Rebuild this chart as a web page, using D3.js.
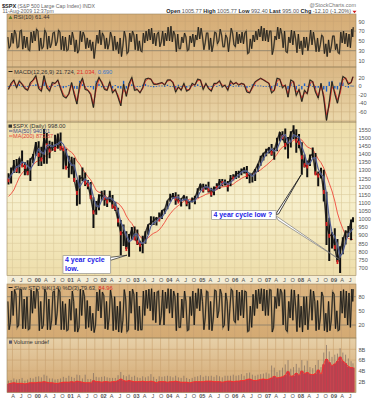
<!DOCTYPE html>
<html><head><meta charset="utf-8">
<script src="https://cdn.jsdelivr.net/npm/d3@7"></script>
<style>body{margin:0;background:#fff}svg{display:block;font-family:"Liberation Sans",Arial,sans-serif}</style>
</head><body><svg id="c" width="377" height="400"></svg>
<script>
// ---------- DATA (monthly, Feb 1999 .. Aug 2009) ----------
const firstMonth = "1999-02";
const lastDate = "2009-08-11";
const prevClose0 = 1280;
const high = [1281,1316,1362,1368,1373,1421,1350,1361,1373,1400,1473,
1478,1444,1553,1528,1481,1475,1517,1525,1531,1436,1431,1389,
1383,1376,1241,1269,1316,1286,1239,1227,1134,1110,1151,1173,
1176,1131,1173,1147,1106,1068,994,965,924,907,951,954,
935,865,896,924,966,1016,1015,1011,1040,1054,1064,1112,
1155,1159,1164,1150,1127,1146,1140,1110,1131,1142,1188,1217,
1217,1212,1229,1192,1199,1220,1246,1245,1243,1233,1270,1275,
1295,1297,1310,1318,1326,1284,1280,1307,1340,1389,1407,1431,
1441,1461,1438,1499,1535,1540,1556,1504,1539,1576,1552,1523,
1471,1396,1359,1397,1440,1405,1292,1314,1303,1167,1007,919,
943,877,832,888,930,957,996,1010];
const low = [1212,1218,1282,1282,1281,1329,1268,1268,1233,1343,1387,
1325,1326,1339,1339,1373,1420,1413,1431,1421,1305,1316,1254,
1275,1228,1081,1091,1232,1203,1183,1124,944,1026,1054,1114,
1081,1074,1103,1063,1048,953,776,834,815,768,872,872,
840,800,789,848,902,963,962,960,990,1000,1031,1060,
1105,1124,1087,1108,1077,1113,1078,1060,1101,1090,1128,1173,
1163,1180,1163,1137,1146,1185,1184,1201,1205,1169,1201,1245,
1245,1253,1268,1280,1245,1220,1224,1234,1290,1327,1360,1385,
1403,1389,1364,1416,1476,1484,1427,1371,1439,1490,1407,1435,
1271,1317,1257,1325,1374,1272,1201,1248,1107,840,741,818,
805,736,667,783,843,889,869,980];
const close = [1238,1286,1335,1302,1373,1329,1320,1283,1363,1389,1469,
1394,1366,1499,1452,1421,1455,1431,1518,1437,1429,1315,1320,
1366,1240,1160,1249,1256,1224,1211,1134,1041,1060,1139,1148,
1130,1107,1147,1077,1067,990,912,916,815,886,936,880,
856,841,848,917,964,975,990,1008,996,1051,1058,1112,
1131,1145,1126,1107,1121,1141,1102,1104,1115,1130,1174,1212,
1181,1204,1181,1157,1192,1191,1234,1220,1229,1207,1249,1248,
1280,1281,1295,1311,1270,1270,1277,1304,1336,1378,1401,1418,
1438,1407,1421,1482,1531,1503,1455,1474,1527,1549,1481,1468,
1379,1331,1323,1386,1400,1280,1267,1283,1166,969,896,903,
826,735,798,873,919,919,987,995];
const ma50 = [1245,1268,1290,1320,1325,1350,1345,1325,1305,1335,1390,
1430,1410,1400,1450,1455,1445,1455,1460,1475,1460,1415,1360,
1330,1330,1260,1195,1225,1245,1230,1205,1135,1080,1075,1115,
1140,1125,1130,1120,1100,1050,980,945,900,860,870,905,
905,855,850,860,900,955,975,985,1005,1010,1035,1065,
1100,1130,1130,1135,1110,1120,1120,1108,1107,1113,1138,1168,
1190,1198,1193,1182,1173,1183,1201,1217,1226,1213,1224,1239,
1256,1269,1287,1294,1295,1277,1263,1279,1300,1335,1368,1398,
1416,1432,1415,1429,1471,1511,1518,1466,1476,1517,1509,1503,
1446,1399,1337,1341,1373,1375,1307,1276,1257,1150,1002,915,
890,843,767,794,857,907,926,940];
const ma200 = [1138,1155,1178,1217,1256,1282,1299,1305,1314,1331,1351,
1358,1365,1379,1393,1404,1423,1431,1445,1441,1445,1440,1420,
1410,1390,1357,1337,1308,1284,1260,1240,1209,1175,1164,1162,
1149,1133,1124,1109,1102,1096,1080,1055,1018,991,972,942,
918,892,877,877,883,900,912,920,933,954,979,1008,
1032,1052,1069,1082,1094,1110,1116,1121,1121,1121,1124,1134,
1142,1151,1156,1162,1172,1180,1192,1197,1199,1202,1207,1214,
1228,1238,1249,1258,1263,1268,1276,1282,1292,1302,1316,1329,
1344,1359,1376,1398,1424,1442,1451,1459,1471,1483,1491,1497,
1485,1463,1443,1435,1427,1400,1368,1346,1313,1267,1219,1172,
1110,1036,983,939,898,880,874,874];
const rsiHi = [58,66,72,64,70,72,60,58,68,70,74,
70,56,72,66,60,66,68,72,68,60,58,62,
68,55,52,70,68,60,56,52,48,62,72,66,
60,56,68,58,60,48,56,70,58,66,70,62,
64,50,66,70,74,76,66,64,68,70,66,78,
80,70,62,64,58,66,58,60,64,62,78,76,
58,66,66,56,68,66,74,62,62,56,76,66,
68,64,68,66,70,54,62,70,74,80,76,72,
70,70,60,78,76,64,70,58,72,70,54,64,
50,58,58,72,68,50,56,62,58,44,52,60,
60,44,68,70,66,64,74,78];
const rsiLo = [35,40,45,36,38,33,36,32,30,46,50,
30,34,38,33,36,45,40,48,32,30,30,32,
42,28,25,32,48,34,36,30,14,38,45,42,
34,33,44,30,32,24,18,40,24,28,48,32,
30,30,28,46,50,52,44,40,38,48,40,50,
50,48,28,34,34,46,30,32,46,38,52,54,
32,46,32,28,42,44,50,38,38,28,52,42,
38,44,46,44,24,26,34,48,52,58,50,50,
48,22,34,52,54,36,28,26,46,42,26,34,
22,36,30,48,42,28,28,42,24,18,26,38,
32,26,24,46,44,38,36,58];
const macd = [-8,6,14,-4,12,4,-6,-10,8,14,24,
-6,-12,24,-4,-12,8,6,14,-6,-24,-28,-18,
8,-20,-42,4,18,-8,-10,-20,-50,4,20,8,
-8,-10,10,-16,-8,-26,-46,4,-24,6,20,-10,
-8,-16,-4,16,18,16,4,4,6,8,2,14,
14,8,-14,-2,-10,6,-12,-8,6,2,16,14,
-8,6,-6,-12,6,6,12,-2,2,-10,12,4,
8,2,6,4,-14,-16,-2,10,14,18,14,10,
6,-16,-10,18,16,-4,2,-26,14,10,-22,-8,
-36,-10,-18,14,10,-14,-28,6,-28,-80,-38,10,
-18,-40,-10,22,18,4,8,21.7];
const signal = [-6,2,12,0,8,6,-3,-9,3,12,20,
0,-10,14,2,-9,3,6,12,-2,-19,-25,-20,
2,-14,-35,-8,14,-3,-9,-17,-42,-8,15,11,
-4,-9,5,-10,-10,-21,-40,-8,-18,0,16,-3,
-8,-14,-7,11,17,16,7,4,5,7,4,11,
14,10,-8,-5,-8,2,-8,-9,2,3,12,14,
-3,3,-3,-10,2,6,10,2,1,-7,7,6,
7,4,5,4,-9,-15,-6,7,13,17,15,11,
7,-9,-11,11,16,1,1,-18,6,11,-14,-11,
-28,-16,-16,6,11,-8,-24,0,-20,-67,-48,-2,
-12,-32,-18,14,19,8,7,21.0];
const stoHi = [70,92,95,85,96,95,75,80,94,92,97,
90,70,96,88,75,90,92,96,90,70,65,75,
92,70,55,96,94,80,72,60,45,90,96,90,
82,70,94,75,80,60,70,95,75,92,96,85,
90,60,92,94,96,97,90,90,92,94,90,97,
96,92,80,88,75,92,70,80,92,88,97,96,
70,92,90,70,94,92,96,85,88,70,96,92,
94,90,94,92,90,60,85,94,96,97,96,94,
95,94,80,97,96,88,95,70,95,94,60,85,
60,80,80,95,92,70,72,90,80,45,70,90,
85,50,92,95,92,88,96,96];
const stoLo = [10,25,40,15,20,12,12,10,12,45,55,
8,12,20,10,10,30,20,45,10,10,8,10,
30,6,5,15,40,12,15,8,4,20,50,35,
12,10,35,8,10,5,4,30,6,10,45,10,
8,10,10,40,55,50,30,25,20,40,20,55,
45,35,8,15,15,35,8,10,40,20,55,50,
10,35,10,8,35,35,50,15,20,8,55,30,
25,30,40,35,6,8,15,40,55,65,50,40,
40,5,15,55,60,20,10,6,35,30,6,15,
5,20,10,50,30,8,10,35,8,5,8,30,
12,8,10,45,35,20,15,70];
const vol = [1.6,1.7,1.8,1.7,1.7,1.7,1.6,1.7,1.8,1.8,1.8,
1.9,1.9,2.0,1.9,1.8,1.8,1.7,1.7,1.8,1.9,1.9,1.9,
2.0,1.9,2.1,2.0,1.9,1.8,1.8,1.8,2.2,2.0,2.0,1.9,
2.0,2.0,1.9,2.0,2.0,2.2,2.5,2.2,2.1,2.2,2.1,2.0,
2.0,2.0,2.1,2.0,2.0,2.1,2.0,1.8,2.0,2.0,2.0,1.9,
2.0,2.0,2.1,2.0,1.9,1.9,1.9,1.8,1.9,2.0,2.0,2.0,
2.0,2.1,2.1,2.1,2.0,2.0,2.0,1.9,2.0,2.1,2.1,2.0,
2.1,2.1,2.2,2.2,2.4,2.5,2.3,2.2,2.3,2.4,2.5,2.4,
2.5,2.7,3.0,2.7,2.8,2.9,3.2,3.9,3.0,3.1,3.6,3.2,
4.0,3.5,3.7,3.4,3.3,3.5,4.2,3.4,5.2,6.2,5.6,5.0,
5.3,5.8,6.6,5.8,5.4,4.8,4.6,4.6];
const volHigh = [2.2,2.3,2.6,2.4,2.5,2.7,2.2,2.4,2.7,2.6,2.9,
3.0,2.8,3.3,3.1,2.6,2.6,2.4,2.5,2.6,2.9,2.7,3.1,
2.9,2.7,3.3,3.2,2.6,3.3,2.5,2.5,3.6,2.9,2.8,2.9,
3.0,2.8,2.7,2.7,2.7,3.2,3.8,3.2,3.0,3.3,2.9,3.1,
2.8,2.7,3.0,2.8,3.0,3.4,2.9,2.5,3.0,2.9,3.0,3.1,
3.0,2.8,3.1,2.8,2.7,3.1,2.7,2.5,2.7,2.9,3.0,3.2,
2.9,3.1,3.0,3.1,2.9,3.2,3.0,2.8,3.1,3.1,3.1,3.3,
3.1,3.2,3.4,3.1,3.6,3.7,3.3,3.1,3.3,3.4,3.5,3.7,
3.5,5.0,4.6,3.8,4.1,4.6,5.2,6.0,4.4,4.7,5.3,4.6,
6.0,5.0,5.9,4.7,4.5,5.1,6.0,4.7,7.4,8.8,7.6,6.6,
7.0,7.2,8.2,7.4,7.0,6.3,5.8,5.4];
// tick labels
const priceTicks = [700,750,800,850,900,950,1000,1050,1100,1150,1200,1250,1300,1350,1400,1450,1500,1550];
const rsiTicks = [10,30,50,70,90];
const macdTicks = [-80,-60,-40,-20,0,20];
const stoTicks = [20,50,80];
const volTicks = [2,4,6,8];
const monthLetters = ["J","F","M","A","M","J","J","A","S","O","N","D"];

// ---------- LAYOUT ----------
const svg = d3.select("#c");
const X0 = 7, X1 = 356;
const x = d3.scaleTime().domain([new Date(1999,0,30), new Date(2009,8,9)]).range([X0, X1]);
const P = {
  rsi:{y0:14,y1:67}, macd:{y0:67,y1:122}, price:{y0:122,y1:275.5},
  sto:{y0:284,y1:338}, vol:{y0:338,y1:392.5}
};
const yR = d3.scaleLinear([10,90],[60.5,21.3]);
const yM = d3.scaleLinear([-80,20],[120.4,77.4]);
const yP = d3.scaleLinear([700,1550],[267.7,129.5]);
const yS = d3.scaleLinear([20,80],[325,296.7]);
const yV = d3.scaleLinear([0,8],[392.5,349.3]);

const pm = d3.timeParse("%Y-%m")(firstMonth);
const endD = d3.timeParse("%Y-%m-%d")(lastDate);
const starts = d3.timeMonth.range(pm, d3.timeMonth.offset(pm, high.length));
const ends = starts.map((s,i)=> i<starts.length-1 ? starts[i+1] : d3.timeDay.offset(endD,1));
const at = (i,f)=> new Date(+starts[i] + f*(ends[i]-starts[i]));
const mid = i => at(i,0.5);
const prevC = i => i===0 ? prevClose0 : close[i-1];
const up = i => close[i] >= prevC(i);

// gradients
const defs = svg.append("defs");
function grad(id, stops){
  const g = defs.append("linearGradient").attr("id",id).attr("x1",0).attr("y1",0).attr("x2",0).attr("y2",1);
  stops.forEach(s=>g.append("stop").attr("offset",s[0]).attr("stop-color",s[1]));
}
grad("gR",[[0,"#D5AC75"],[1,"#DFBE8D"]]);
grad("gM",[[0,"#D9B683"],[1,"#EBD8AB"]]);
grad("gP",[[0,"#EDDCA7"],[0.5,"#F7F0CD"],[1,"#EEDEAB"]]);
grad("gS",[[0,"#DBB480"],[1,"#D4AA73"]]);
grad("gV",[[0,"#E7D0A8"],[1,"#D0A36C"]]);
Object.entries(P).forEach(([k,p])=>{
  defs.append("clipPath").attr("id","cl"+k).append("rect")
    .attr("x",X0).attr("y",p.y0).attr("width",X1-X0).attr("height",p.y1-p.y0);
});

// axis rows backgrounds
svg.append("rect").attr("x",X0).attr("y",275.5).attr("width",X1-X0).attr("height",8.5).attr("fill","#F4EDD6");

const qTicks = d3.timeMonth.every(3).range(new Date(1999,3,1), new Date(2009,8,1));

function panel(key, fill, yScale, gridVals, strongVals, gridCol){
  const p = P[key];
  const g = svg.append("g");
  g.append("rect").attr("x",X0).attr("y",p.y0).attr("width",X1-X0).attr("height",p.y1-p.y0).attr("fill",fill);
  const gc = g.append("g").attr("clip-path",`url(#cl${key})`);
  gc.selectAll("line.v").data(qTicks).join("line")
    .attr("x1",d=>x(d)).attr("x2",d=>x(d)).attr("y1",p.y0).attr("y2",p.y1)
    .attr("stroke",gridCol).attr("stroke-width",0.6);
  gc.selectAll("line.h").data(gridVals).join("line")
    .attr("x1",X0).attr("x2",X1).attr("y1",d=>yScale(d)).attr("y2",d=>yScale(d))
    .attr("stroke",d=>strongVals.includes(d)?"#8f826c":gridCol).attr("stroke-width",d=>strongVals.includes(d)?0.9:0.6);
  return gc;
}
const gRsi = panel("rsi","url(#gR)",yR,[10,30,50,70,90],[30,70],"#C9A574");
const gMacd = panel("macd","url(#gM)",yM,macdTicks,[],"#CDB080");
const gPrice = panel("price","url(#gP)",yP,priceTicks,[],"#DCCB9C");
const gSto = panel("sto","url(#gS)",yS,[20,50,80],[20,80],"#C6A070");
const gVol = panel("vol","url(#gV)",yV,volTicks,[],"#C9A370");

// zigzag through monthly highs / lows of an oscillator
const zig = (hi,lo,ys)=>{
  const pts=[];
  hi.forEach((h,i)=>{
    if(up(i)){pts.push([x(at(i,0.25)),ys(lo[i])]);pts.push([x(at(i,0.75)),ys(h)]);}
    else{pts.push([x(at(i,0.25)),ys(h)]);pts.push([x(at(i,0.75)),ys(lo[i])]);}
  });
  return d3.line()(pts);
};
gRsi.append("path").attr("d",zig(rsiHi,rsiLo,yR)).attr("fill","none").attr("stroke","#8a7656").attr("stroke-width",1.6);
gRsi.append("path").attr("d",zig(rsiHi,rsiLo,yR)).attr("fill","none").attr("stroke","#111").attr("stroke-width",0.7);

// MACD
gMacd.selectAll("rect.h").data(macd).join("rect")
  .attr("x",(d,i)=>x(mid(i))-0.7).attr("width",1.4)
  .attr("y",(d,i)=>Math.min(yM(0),yM(d-signal[i]))).attr("height",(d,i)=>Math.max(0.8,Math.abs(yM(0)-yM(d-signal[i]))))
  .attr("fill","#1d5fc4");
gMacd.append("path").attr("d",d3.line().x((d,i)=>x(mid(i))).y(d=>yM(d))(macd)).attr("fill","none").attr("stroke","#8a7656").attr("stroke-width",1.5);
gMacd.append("path").attr("d",d3.line().x((d,i)=>x(mid(i))).y(d=>yM(d))(signal)).attr("fill","none").attr("stroke","#e0302a").attr("stroke-width",0.9);
gMacd.append("path").attr("d",d3.line().x((d,i)=>x(mid(i))).y(d=>yM(d))(macd)).attr("fill","none").attr("stroke","#111").attr("stroke-width",0.8);

// PRICE
gPrice.append("path").attr("d",d3.line().x((d,i)=>x(mid(i))).y(d=>yP(d))(ma200)).attr("fill","none").attr("stroke","#ee4a3c").attr("stroke-width",0.9);
gPrice.append("path").attr("d",d3.line().x((d,i)=>x(mid(i))).y(d=>yP(d))(close)).attr("fill","none").attr("stroke","#3a3530").attr("stroke-width",1.5);
gPrice.selectAll("line.bar").data(high).join("line")
  .attr("x1",(d,i)=>x(mid(i))).attr("x2",(d,i)=>x(mid(i)))
  .attr("y1",d=>yP(d)).attr("y2",(d,i)=>yP(low[i]))
  .attr("stroke","#111").attr("stroke-width",2);
gPrice.selectAll("rect.dn").data(close).join("rect")
  .attr("x",(d,i)=>x(mid(i))-0.9).attr("width",1.8)
  .attr("y",d=>yP(d)-2).attr("height",4)
  .attr("fill",(d,i)=>up(i)?"none":"#d81e1e");
gPrice.append("path").attr("d",d3.line().x((d,i)=>x(mid(i))).y(d=>yP(d))(ma50)).attr("fill","none").attr("stroke","#9aa3c8").attr("stroke-width",1.6).attr("opacity",0.6);
gPrice.append("path").attr("d",d3.line().x((d,i)=>x(mid(i))).y(d=>yP(d))(ma50)).attr("fill","none").attr("stroke","#33407c").attr("stroke-width",0.8);

// STOCH
gSto.append("path").attr("d",zig(stoHi,stoLo,yS)).attr("fill","none").attr("stroke","#8c7a5c").attr("stroke-width",1.8);
gSto.append("path").attr("d",zig(stoHi,stoLo,yS)).attr("fill","none").attr("stroke","#111").attr("stroke-width",0.8);

// VOLUME
const bw = 2.9;
gVol.selectAll("rect.v").data(vol).join("rect")
  .attr("x",(d,i)=>x(mid(i))-bw/2).attr("width",bw)
  .attr("y",d=>yV(d)).attr("height",d=>yV(0)-yV(d)).attr("fill","#C33A4B");
gVol.selectAll("line.vh").data(volHigh).join("line")
  .attr("x1",(d,i)=>x(mid(i))).attr("x2",(d,i)=>x(mid(i)))
  .attr("y1",d=>yV(d)).attr("y2",yV(0)).attr("stroke","#6e5f5c").attr("stroke-width",0.6);
gVol.selectAll("rect.v2").data(vol).join("rect")
  .attr("x",(d,i)=>x(mid(i))-bw/2).attr("width",bw)
  .attr("y",d=>yV(d)).attr("height",d=>yV(0)-yV(d)).attr("fill","#C8404F").attr("opacity",0.55);
gVol.append("path").attr("d",d3.line().x((d,i)=>x(mid(i))).y(d=>yV(d)).curve(d3.curveMonotoneX)(vol)).attr("fill","none").attr("stroke","#ff2a2a").attr("stroke-width",1);

// panel borders
Object.values(P).forEach(p=>{
  svg.append("rect").attr("x",X0).attr("y",p.y0).attr("width",X1-X0).attr("height",p.y1-p.y0)
    .attr("fill","none").attr("stroke","#9c8560").attr("stroke-width",0.6);
});

// right axes
function rAxis(scale, vals, fmt){
  const g = svg.append("g").attr("transform",`translate(${X1},0)`)
    .call(d3.axisRight(scale).tickValues(vals).tickSize(0).tickPadding(2.5).tickFormat(fmt||(d=>d)));
  g.select(".domain").remove();
  g.selectAll("text").attr("font-size",5.6).attr("fill","#555").attr("font-family","Liberation Sans, Arial, sans-serif");
}
rAxis(yR, rsiTicks);
rAxis(yM, macdTicks.filter(d=>d>-80));
rAxis(yP, priceTicks);
rAxis(yS, stoTicks);
rAxis(yV, volTicks, d=>d+"B");

// date axes
function dAxis(y){
  const g = svg.append("g").attr("transform",`translate(0,${y})`)
    .call(d3.axisBottom(x).tickValues(qTicks).tickSize(0).tickPadding(0)
      .tickFormat(d=> d.getMonth()===0 ? d3.timeFormat("%y")(d) : monthLetters[d.getMonth()]));
  g.select(".domain").remove();
  g.selectAll("text").attr("font-size",5.6).attr("fill","#555").attr("dy","0.35em").attr("y",0)
    .attr("font-weight",d=>d.getMonth()===0?"bold":"normal").attr("font-family","Liberation Sans, Arial, sans-serif");
}
dAxis(279.8);
dAxis(396);

// ---------- TEXT ----------
const T = (xx,yy,txt,o={})=>svg.append("text").attr("x",xx).attr("y",yy).text(txt)
  .attr("font-size",o.s||5.8).attr("fill",o.c||"#333").attr("font-weight",o.w||"normal")
  .attr("text-anchor",o.a||"start");
T(2,7.5,"$SPX",{s:5.6,w:"bold",c:"#222"});
T(17.5,7.5,"(S&P 500 Large Cap Index) INDX",{s:5.2,c:"#666"});
T(356,7,"@StockCharts.com",{s:5.4,c:"#777",a:"end"});
T(2.5,13.2,"11-Aug-2009 12:37pm",{s:5.2,c:"#666"});
const hdr = svg.append("text").attr("x",351).attr("y",13.2).attr("text-anchor","end").attr("font-size",5.5).attr("fill","#555");
[["Open ",1],["1005.77 ",0],["High ",1],["1005.77 ",0],["Low ",1],["992.40 ",0],["Last ",1],["995.00 ",0],["Chg ",1],["-12.10 (-1.20%)",0]]
  .forEach(([t,b])=>hdr.append("tspan").text(t).attr("font-weight",b?"bold":"normal").attr("fill",b?"#222":"#555"));
svg.append("path").attr("d","M352.5,10.8 L356.5,10.8 L354.5,13.2 Z").attr("fill","#d01818");

// panel legends
svg.append("path").attr("d","M8.5,19 L10.5,15.5 L12.5,19 Z").attr("fill","#5c7a2c");
T(13.5,19.2,"RSI(10) 61.44",{s:5.8,c:"#333"});
svg.append("line").attr("x1",8.5).attr("x2",12.5).attr("y1",71.5).attr("y2",71.5).attr("stroke","#111").attr("stroke-width",0.9);
const ml = svg.append("text").attr("x",14).attr("y",73.5).attr("font-size",5.8).attr("fill","#333");
ml.append("tspan").text("MACD(12,26,9) 21.724, ");
ml.append("tspan").text("21.034, ").attr("fill","#e0302a");
ml.append("tspan").text("0.690").attr("fill","#3a7ad0");
svg.append("rect").attr("x",8.5).attr("y",124.5).attr("width",3.5).attr("height",3.2).attr("fill","#333");
T(13,128,"$SPX (Daily) 998.00",{s:5.8,c:"#333"});
svg.append("line").attr("x1",9).attr("x2",12.5).attr("y1",131).attr("y2",131).attr("stroke","#33407c").attr("stroke-width",0.9);
T(13,133,"MA(50) 940.01",{s:5.6,c:"#45508a"});
svg.append("line").attr("x1",9).attr("x2",12.5).attr("y1",136).attr("y2",136).attr("stroke","#ee4a3c").attr("stroke-width",0.9);
T(13,138,"MA(200) 873.87",{s:5.6,c:"#e0453a"});
svg.append("line").attr("x1",8.5).attr("x2",12.5).attr("y1",287.5).attr("y2",287.5).attr("stroke","#111").attr("stroke-width",0.9);
const sl = svg.append("text").attr("x",14).attr("y",289.5).attr("font-size",5.8).attr("fill","#333");
sl.append("tspan").text("Slow STO %K(14) %D(3) 79.63, ");
sl.append("tspan").text("84.96").attr("fill","#e0302a");
svg.append("rect").attr("x",9).attr("y",340.5).attr("width",3).attr("height",3.2).attr("fill","#5a5a70");
T(13.5,343.7,"Volume undef",{s:5.8,c:"#333"});

// ---------- ANNOTATIONS ----------
svg.append("path").attr("d","M110.5,257.3 L127,255.2 L110.5,260.3 Z").attr("fill","#fff").attr("stroke","#222").attr("stroke-width",0.7);
svg.append("rect").attr("x",63).attr("y",255.7).attr("width",47.5).attr("height",17.8).attr("fill","#fff").attr("stroke","#888").attr("stroke-width",0.6);
T(65,262.3,"4 year cycle",{s:7,w:"bold",c:"#1b22e6"});
T(65,270.6,"low.",{s:7,w:"bold",c:"#1b22e6"});

svg.append("path").attr("d","M275.5,214.5 L301,175 L278.5,214 Z").attr("fill","#fff").attr("stroke","#111").attr("stroke-width",0.8);
svg.append("path").attr("d","M275.5,215.5 L339.5,259.5 L278,220 Z").attr("fill","#fff").attr("stroke","#666").attr("stroke-width",0.6);
svg.append("rect").attr("x",211.7).attr("y",210.6).attr("width",64.3).attr("height",8.8).attr("fill","#fff").attr("stroke","#888").attr("stroke-width",0.6);
T(213.5,217.4,"4 year cycle low ?",{s:6.9,w:"bold",c:"#1b22e6"});
</script></body></html>
